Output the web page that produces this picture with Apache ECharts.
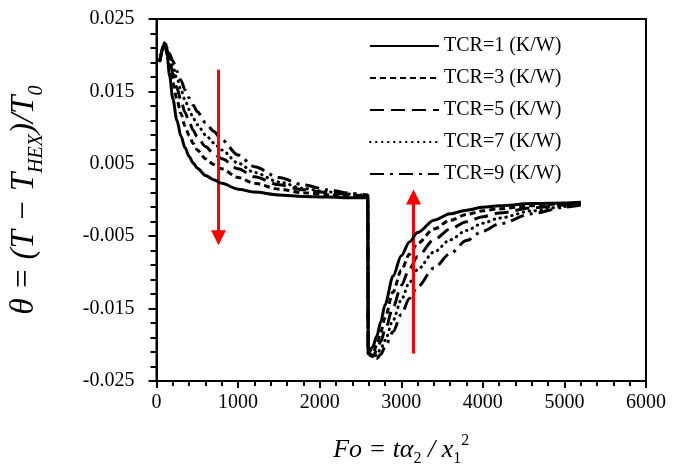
<!DOCTYPE html>
<html>
<head>
<meta charset="utf-8">
<script src="https://cdn.jsdelivr.net/npm/echarts@6/dist/echarts.min.js"></script>
<style>
  html, body { margin: 0; padding: 0; background: #fff; }
  #chart { width: 675px; height: 472px; }
</style>
</head>
<body>
<div id="chart"></div>
<script>
const fo = [40, 100, 130, 160, 200, 250, 300, 350, 400, 450, 500, 600, 700, 800, 1000, 1200, 1500, 1800, 2100, 2400, 2590,
  2595, 2650, 2700, 2750, 2800, 2900, 3000, 3100, 3200, 3400, 3600, 3800, 4000, 4200, 4600, 5000, 5200]

const tcr1 = [0.0192, 0.0217, 0.0200, 0.0172, 0.0140, 0.0110, 0.0088, 0.0072, 0.0060, 0.0051, 0.0044, 0.0034, 0.0028, 0.0023, 0.0015, 0.0011, 0.0007, 0.0005, 0.0004, 0.0003, 0.0003,
  -0.0212, -0.0203, -0.0188, -0.0168, -0.0145, -0.0105, -0.0077, -0.0058, -0.0045, -0.0028, -0.0019, -0.0014, -0.0010, -0.0008, -0.0005, -0.0004, -0.0003]
const tcr3 = [0.0192, 0.0217, 0.0205, 0.0186, 0.0162, 0.0139, 0.0119, 0.0102, 0.0089, 0.0078, 0.0069, 0.0057, 0.0049, 0.0043, 0.0031, 0.0023, 0.0015, 0.0010, 0.0007, 0.0005, 0.0004,
  -0.0212, -0.0214, -0.0200, -0.0182, -0.0163, -0.0127, -0.0097, -0.0075, -0.0060, -0.0040, -0.0028, -0.0020, -0.0015, -0.0012, -0.0008, -0.0005, -0.0004]
const tcr5 = [0.0192, 0.0217, 0.0208, 0.0193, 0.0175, 0.0155, 0.0137, 0.0121, 0.0108, 0.0096, 0.0087, 0.0074, 0.0064, 0.0057, 0.0043, 0.0032, 0.0021, 0.0014, 0.0010, 0.0007, 0.0005,
  -0.0212, -0.0216, -0.0208, -0.0195, -0.0180, -0.0148, -0.0118, -0.0095, -0.0078, -0.0055, -0.0040, -0.0030, -0.0023, -0.0018, -0.0011, -0.0007, -0.0005]
const tcr7 = [0.0192, 0.0217, 0.0210, 0.0198, 0.0184, 0.0168, 0.0152, 0.0138, 0.0125, 0.0113, 0.0104, 0.0090, 0.0079, 0.0069, 0.0051, 0.0038, 0.0025, 0.0016, 0.0011, 0.0008, 0.0006,
  -0.0212, -0.0217, -0.0214, -0.0205, -0.0194, -0.0166, -0.0138, -0.0114, -0.0096, -0.0072, -0.0055, -0.0042, -0.0032, -0.0025, -0.0015, -0.0009, -0.0006]
const tcr9 = [0.0192, 0.0217, 0.0212, 0.0202, 0.0192, 0.0178, 0.0165, 0.0152, 0.0141, 0.0131, 0.0122, 0.0107, 0.0095, 0.0083, 0.0062, 0.0046, 0.0031, 0.0021, 0.0014, 0.0009, 0.0007,
  -0.0212, -0.0218, -0.0219, -0.0213, -0.0203, -0.0182, -0.0158, -0.0136, -0.0120, -0.0094, -0.0074, -0.0056, -0.0043, -0.0033, -0.0019, -0.0010, -0.0007]

const seriesNames = ['TCR=1 (K/W)', 'TCR=3 (K/W)', 'TCR=5 (K/W)', 'TCR=7 (K/W)', 'TCR=9 (K/W)']
const seriesValues = [tcr1, tcr3, tcr5, tcr7, tcr9]
const dashTypes = ['solid', [6, 4], [14, 7], [0.5, 5.5], [14, 6, 3, 6]]

// red arrows: [fo, from, to]
const arrowDown = [760, 0.018, -0.0052]
const arrowUp = [3150, -0.0212, 0.0004]

const serif = 'Liberation Serif'
const chart = echarts.init(document.getElementById('chart'))

const series = seriesNames.map(function (name, i) {
  return {
    type: 'line',
    name: name,
    data: fo.map(function (x, k) { return [x, seriesValues[i][k]] }),
    symbol: 'none',
    smooth: 0.3,
    smoothMonotone: 'x',
    lineStyle: { color: '#000', width: 3, type: dashTypes[i], cap: i === 3 ? 'round' : 'butt' },
    itemStyle: { color: '#000' },
    z: 5 - i,
  }
})

series.push({
  type: 'line',
  data: [],
  silent: true,
  markLine: {
    silent: true,
    symbol: ['none', 'triangle'],
    symbolSize: [15, 15],
    label: { show: false },
    lineStyle: { color: '#ff0000', width: 3, type: 'solid' },
    data: [
      [{ coord: [arrowDown[0], arrowDown[1]] }, { coord: [arrowDown[0], arrowDown[2]] }],
      [{ coord: [arrowUp[0], arrowUp[1]] }, { coord: [arrowUp[0], arrowUp[2]] }],
    ],
  },
})

chart.setOption({
  animation: false,
  grid: {
    left: 155, right: 29, top: 19, bottom: 91,
    show: true, borderColor: '#000', borderWidth: 2,
  },
  legend: {
    orient: 'vertical',
    left: 364,
    top: 31,
    itemWidth: 69,
    itemHeight: 14,
    itemGap: 12,
    data: seriesNames,
    itemStyle: { opacity: 0 },
    textStyle: { fontFamily: serif, fontSize: 20, color: '#000' },
  },
  xAxis: {
    type: 'value',
    min: 0,
    max: 6000,
    interval: 1000,
    name: 'Fo = tα{s|2} / x{s|1}{p|2}',
    nameLocation: 'middle',
    nameGap: 52,
    nameTextStyle: {
      fontFamily: serif, fontSize: 26, fontStyle: 'italic', color: '#000',
      rich: {
        s: { fontFamily: serif, fontSize: 16, fontStyle: 'normal', verticalAlign: 'bottom', lineHeight: 34, padding: [10, 0, 0, 0] },
        p: { fontFamily: serif, fontSize: 16, fontStyle: 'normal', verticalAlign: 'top', lineHeight: 34 },
      },
    },
    axisLine: { onZero: false, lineStyle: { color: '#000', width: 2 } },
    axisTick: { length: 7, lineStyle: { color: '#000', width: 2 } },
    minorTick: { show: true, splitNumber: 5, length: 5, lineStyle: { color: '#000', width: 2 } },
    splitLine: { show: false },
    axisLabel: {
      fontFamily: serif, fontSize: 20, color: '#000', margin: 12,
      formatter: function (v) { return String(v) },
    },
  },
  yAxis: {
    type: 'value',
    min: -0.025,
    max: 0.025,
    interval: 0.01,
    name: 'θ = (T − T{s|HEX})/T{s|0}',
    nameLocation: 'middle',
    nameGap: 110,
    nameRotate: 90,
    nameTextStyle: {
      fontFamily: serif, fontSize: 33, fontStyle: 'italic', color: '#000',
      rich: {
        s: { fontFamily: serif, fontSize: 20, fontStyle: 'italic', verticalAlign: 'bottom', lineHeight: 44, padding: [12, 0, 0, 0] },
      },
    },
    axisLine: { onZero: false, lineStyle: { color: '#000', width: 2 } },
    axisTick: { length: 8, lineStyle: { color: '#000', width: 2 } },
    minorTick: { show: true, splitNumber: 5, length: 6, lineStyle: { color: '#000', width: 2 } },
    splitLine: { show: false },
    axisLabel: {
      fontFamily: serif, fontSize: 20, color: '#000', margin: 22,
      formatter: function (v) { return v.toFixed(3) },
    },
  },
  series: series,
})
</script>
</body>
</html>
